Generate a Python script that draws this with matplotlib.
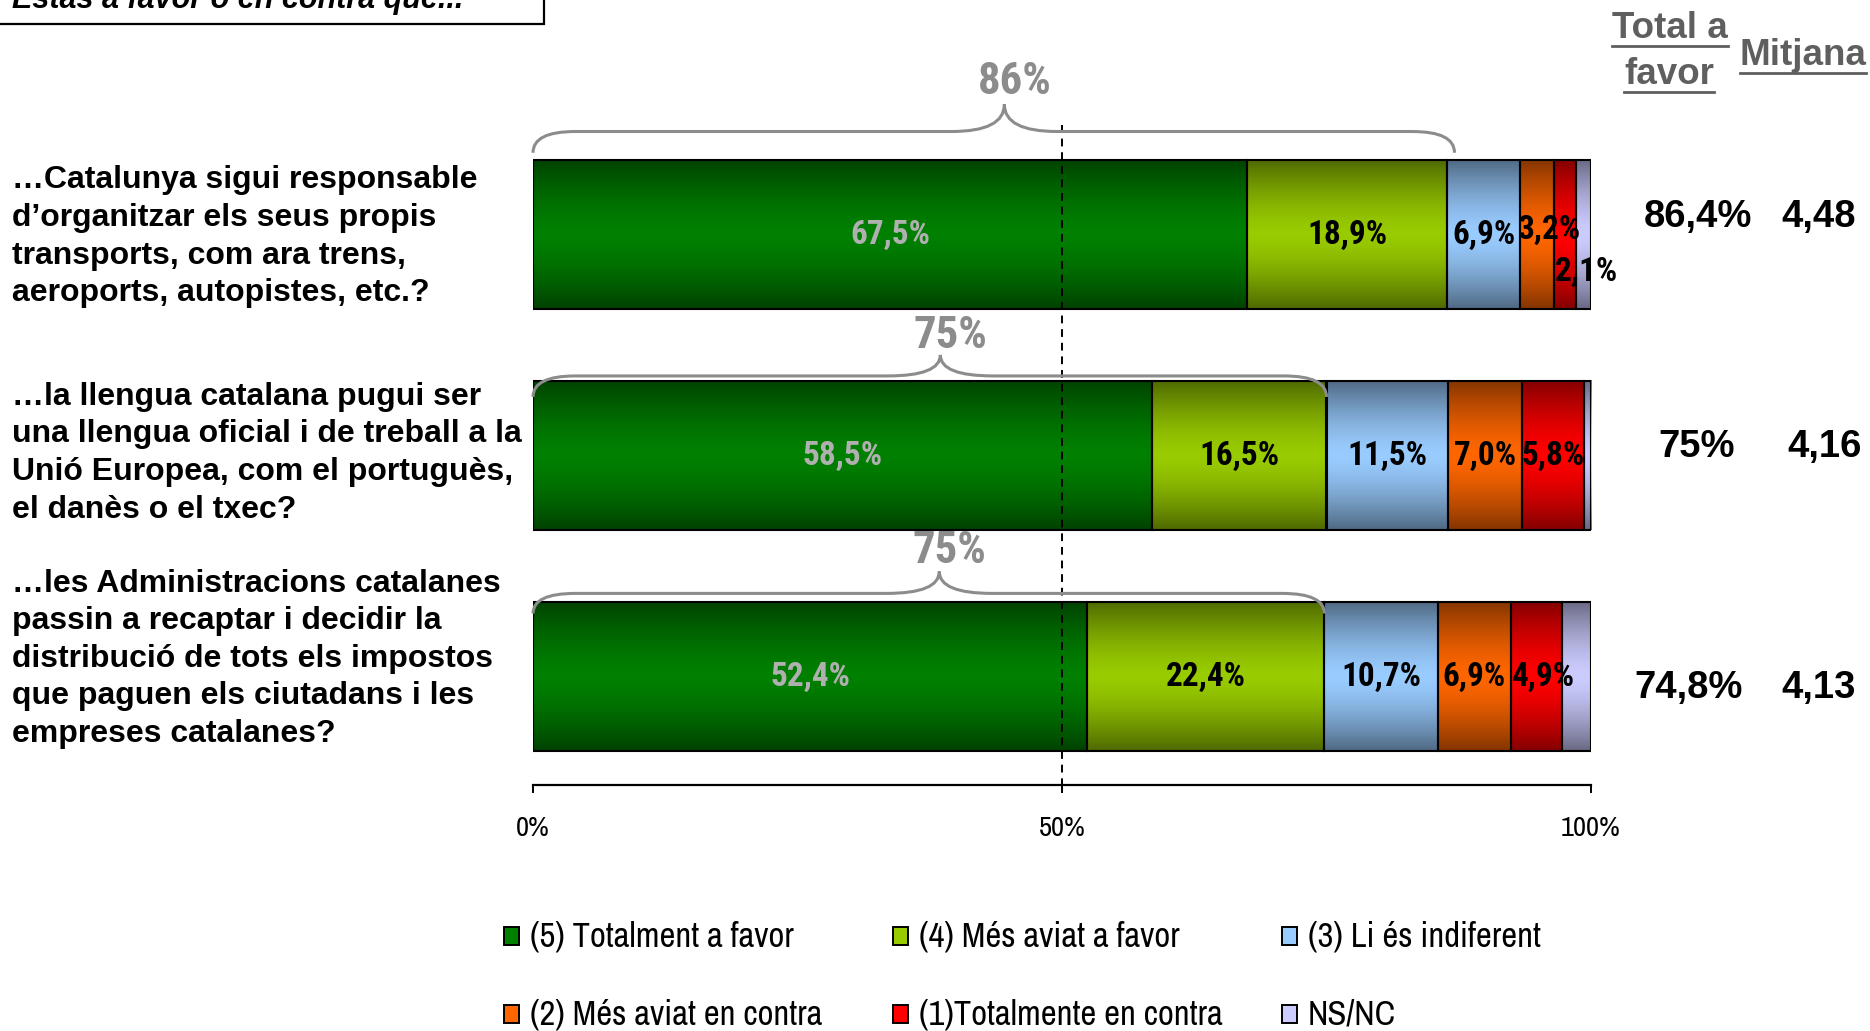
import matplotlib
matplotlib.use("Agg")
import matplotlib.pyplot as plt
import matplotlib.transforms as mtransforms
from matplotlib.patches import Rectangle, PathPatch
from matplotlib.path import Path
from matplotlib import font_manager
import numpy as np

# dades
preguntes = [
    "…Catalunya sigui responsable\nd’organitzar els seus propis\ntransports, com ara trens,\naeroports, autopistes, etc.?",
    "…la llengua catalana pugui ser\nuna llengua oficial i de treball a la\nUnió Europea, com el portuguès,\nel danès o el txec?",
    "…les Administracions catalanes\npassin a recaptar i decidir la\ndistribució de tots els impostos\nque paguen els ciutadans i les\nempreses catalanes?",
]
categories = ["(5) Totalment a favor", "(4) Més aviat a favor", "(3) Li és indiferent",
              "(2) Més aviat en contra", "(1)Totalmente en contra", "NS/NC"]
totalment_favor = [67.5, 58.5, 52.4]
mes_aviat_favor = [18.9, 16.5, 22.4]
indiferent = [6.9, 11.5, 10.7]
mes_aviat_contra = [3.2, 7.0, 6.9]
totalment_contra = [2.1, 5.8, 4.9]
ns_nc = [1.4, 0.7, 2.7]
total_favor = [86.4, 75.0, 74.8]
total_favor_txt = ["86,4%", "75%", "74,8%"]
brace_txt = ["86%", "75%", "75%"]
mitjana = ["4,48", "4,16", "4,13"]
series = [totalment_favor, mes_aviat_favor, indiferent, mes_aviat_contra, totalment_contra, ns_nc]

colors = ["#008000", "#99cc00", "#99ccff", "#ff6600", "#ff0000", "#ccccff"]

# fonts estretes (Arial Narrow no hi és)
ttf = font_manager.fontManager.ttflist
names = {f.name for f in ttf}
bold_names = {f.name for f in ttf if (isinstance(f.weight, int) and f.weight >= 700) or f.weight == 'bold'}
candidates = ["Liberation Sans Narrow", "Arial Narrow", "Archivo Narrow", "Roboto Condensed",
              "PT Sans Narrow", "Fira Sans Condensed", "IBM Plex Sans Condensed",
              "Asap Condensed", "Barlow Condensed", "Encode Sans Condensed"]
NARROW = next((c for c in candidates if c in names), "Liberation Sans")
NARROW_B = next((c for c in candidates if c in bold_names), "Liberation Sans")
SANS = "Liberation Sans"
plt.rcParams['font.family'] = SANS

W, H = 1870, 1031
fig = plt.figure(figsize=(W / 100, H / 100), dpi=100)
renderer = fig.canvas.get_renderer()

def fit_size(s, target_px, **kw):
    # mida de lletra perquè el text faci target_px d'ample
    t = fig.text(0, 0, s, fontsize=20, **kw)
    w = t.get_window_extent(renderer).width
    t.remove()
    return 20 * target_px / w

seg_fs = fit_size("18,9%", 80, family=NARROW_B, fontweight='bold')
brace_fs = fit_size("75%", 74, family=NARROW_B, fontweight='bold')
tick_fs = fit_size("100%", 60, family=NARROW)
leg_fs = fit_size("(5) Totalment a favor", 264, family=NARROW)

# eixos: x de 533 a 1591 px, y de 60 a 785 px
ax = fig.add_axes([533 / W, (H - 785) / H, 1058 / W, 725 / H])

def gradient(hexcol, n=64):
    rgb = np.array(matplotlib.colors.to_rgb(hexcol))
    t = np.linspace(0, 1, n)
    g = 1 - np.abs(2 * t - 1) ** 1.5
    f = 0.52 + 0.48 * g
    return (f[:, None] * rgb[None, :])[:, None, :]

y = np.arange(3)
left = np.zeros(3)
bar_h = 0.675
for k, vals in enumerate(series):
    bars = ax.barh(y, vals, left=left, height=bar_h, facecolor='none',
                   edgecolor='black', linewidth=1.5, zorder=3)
    grad = gradient(colors[k])
    for p in bars.patches:
        x0, y0 = p.get_x(), p.get_y()
        ax.imshow(grad, extent=(x0, x0 + p.get_width(), y0 + p.get_height(), y0),
                  aspect='auto', zorder=2, interpolation='bilinear')
    # etiquetes
    if k < 5:
        for i, v in enumerate(vals):
            dx, dy = 0, 0
            if (i, k) == (0, 3):
                dx, dy = 1.2, -0.02
            if (i, k) == (0, 4):
                dx, dy = 2.0, 0.17
            if (i, k) == (2, 4):
                dx = 0.7
            col = '#b0b0b0' if k == 0 else 'black'
            ax.text(left[i] + v / 2 + dx, i + dy, f"{v:.1f}%".replace('.', ','),
                    ha='center', va='center', fontsize=seg_fs, fontweight='bold',
                    family=NARROW_B, color=col, zorder=5)
    left = left + np.array(vals)

ax.set_xlim(0, 100)
ax.set_ylim((785 - 234.5) / 221, (60 - 234.5) / 221)

# línia del 50%
ax.vlines(50, (125 - 234.5) / 221, ax.get_ylim()[0], colors='black',
          linestyles=(0, (4, 3)), linewidth=1.4, zorder=4)

# claus
brace_geo = [(-0.37, -0.466, -0.589, -0.689, 0.7),
             (-0.265, -0.36, -0.455, -0.54, 0.0),
             (-0.285, -0.376, -0.475, -0.57, 0.0)]
r, r2 = 4.0, 5.0
for i, tot in enumerate(total_favor):
    e, ln, pk, lb, pad = brace_geo[i]
    x1 = tot + pad
    xm = x1 / 2 + 1
    verts = [(0, i + e), (0, i + ln), (r, i + ln),
             (xm - r2, i + ln), (xm, i + ln), (xm, i + pk),
             (xm, i + ln), (xm + r2, i + ln),
             (x1 - r, i + ln), (x1, i + ln), (x1, i + e)]
    codes = [Path.MOVETO, Path.CURVE3, Path.CURVE3,
             Path.LINETO, Path.CURVE3, Path.CURVE3,
             Path.CURVE3, Path.CURVE3,
             Path.LINETO, Path.CURVE3, Path.CURVE3]
    ax.add_patch(PathPatch(Path(verts, codes), facecolor='none', edgecolor='#8c8c8c',
                           linewidth=2.2, zorder=6, clip_on=False))
    ax.text(xm + 1, i + lb, brace_txt[i], ha='center', va='center', fontsize=brace_fs,
            fontweight='bold', family=NARROW_B, color='#8c8c8c', zorder=6)

# eix x
for s in ['top', 'right', 'left']:
    ax.spines[s].set_visible(False)
ax.spines['bottom'].set_linewidth(1.6)
ax.set_yticks([])
ax.set_xticks([0, 50, 100])
ax.set_xticklabels(["0%", "50%", "100%"], family=NARROW, fontsize=tick_fs)
ax.tick_params(axis='x', direction='out', length=6, width=1.4, pad=16)

# preguntes
tr = mtransforms.blended_transform_factory(fig.transFigure, ax.transData)
label_dy = [0.01, -0.01, -0.08]
for i, q in enumerate(preguntes):
    ax.text(12 / W, i + label_dy[i], q, transform=tr, ha='left', va='center',
            fontsize=23, fontweight='bold', linespacing=1.33)

# total a favor i mitjana
val_dy = [-0.08, -0.04, 0.05]
tot_x = [1698, 1697, 1689]
mit_x = [1819, 1825, 1819]
for i in range(3):
    ax.text(tot_x[i] / W, i + val_dy[i], total_favor_txt[i], transform=tr, ha='center',
            va='center', fontsize=27.5, fontweight='bold')
    ax.text(mit_x[i] / W, i + val_dy[i], mitjana[i], transform=tr, ha='center',
            va='center', fontsize=27.5, fontweight='bold')

# capçaleres subratllades
heads = [("Total a", 1670, 38), ("favor", 1669, 84), ("Mitjana", 1803, 65)]
head_txt = []
for s, xc, yb in heads:
    t = fig.text(xc / W, 1 - yb / H, s, ha='center', va='baseline', fontsize=26.5,
                 fontweight='bold', color='#5f5f5f')
    head_txt.append((t, yb))
for t, yb in head_txt:
    bb = t.get_window_extent(renderer)
    yl = 1 - (yb + 8) / H
    fig.add_artist(plt.Line2D([bb.x0 / W, bb.x1 / W], [yl, yl], transform=fig.transFigure,
                              color='#5f5f5f', linewidth=2))

# caixa del títol (tallada)
fig.add_artist(Rectangle((-0.01, 1 - 24 / H), (544 / W) + 0.01, 40 / H, transform=fig.transFigure,
                         facecolor='white', edgecolor='black', linewidth=1.6, clip_on=False))
fig.text(12 / W, 1 - 8 / H, "Estàs a favor o en contra que...", ha='left', va='baseline',
         fontsize=22, fontweight='bold', style='italic')

# llegenda
for k, name in enumerate(categories):
    rr, cc = k // 3, k % 3
    yc = 936 + rr * 78
    xm_ = 504 + cc * 389
    fig.add_artist(Rectangle((xm_ / W, 1 - (yc + 9) / H), 15 / W, 18 / H,
                             transform=fig.transFigure, facecolor=colors[k],
                             edgecolor='black', linewidth=1.4))
    fig.text((xm_ + 26) / W, 1 - yc / H, name, ha='left', va='center',
             fontsize=leg_fs, family=NARROW)

fig.savefig("out.png", dpi=100)
